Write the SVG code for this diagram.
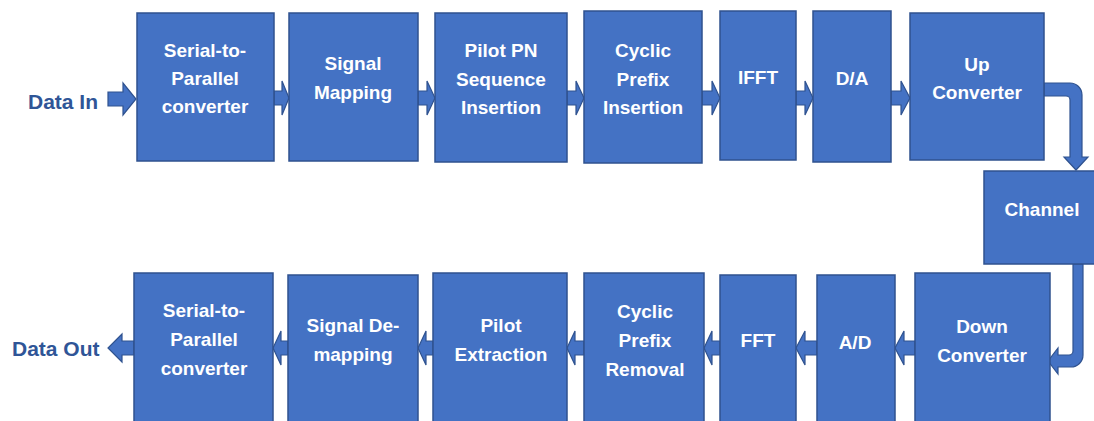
<svg xmlns="http://www.w3.org/2000/svg" width="1094" height="421" viewBox="0 0 1094 421">
<style>
.box{fill:#4472C4;stroke:#2F528F;stroke-width:1.5}
.arr{fill:#4472C4;stroke:#2F528F;stroke-width:1.2;stroke-linejoin:miter}
.t{font-family:"Liberation Sans",Arial,sans-serif;font-weight:bold;font-size:19px;fill:#FFFFFF;text-anchor:middle}
.lbl{font-family:"Liberation Sans",Arial,sans-serif;font-weight:bold;font-size:21px;fill:#2F5597}
</style>
<rect width="1094" height="421" fill="#FFFFFF"/>
<g id="connectors">
<path class="arr" d="M108,92 H123 V83 L136,99 L123,115 V106 H108 Z"/>
<path class="arr" d="M274,91 H282 V81 L289,98 L282,115 V105 H274 Z"/>
<path class="arr" d="M418,91 H427 V81 L435,98 L427,115 V105 H418 Z"/>
<path class="arr" d="M567,91 H576 V81 L584,98 L576,115 V105 H567 Z"/>
<path class="arr" d="M702,91 H712 V81 L720,98 L712,115 V105 H702 Z"/>
<path class="arr" d="M796,91 H805 V81 L813,98 L805,115 V105 H796 Z"/>
<path class="arr" d="M891,91 H901 V81 L910,98 L901,115 V105 H891 Z"/>
<path class="arr" d="M1044,83 H1070 A12,12 0 0 1 1082,95 V157 H1088 L1076,170 L1064,157 H1070 V100 A4,4 0 0 0 1066,96 H1044 Z"/>
<path class="arr" d="M1073,264 H1083 V355 A12,12 0 0 1 1071,367 H1058 V374 L1048,361 L1058,348 V355 H1069 A4,4 0 0 0 1073,351 Z"/>
<path class="arr" d="M915,341 H904 V331 L895,348 L904,365 V355 H915 Z"/>
<path class="arr" d="M817,341 H805 V331 L796,348 L805,365 V355 H817 Z"/>
<path class="arr" d="M720,341 H712 V331 L704,348 L712,365 V355 H720 Z"/>
<path class="arr" d="M584,341 H575 V331 L567,348 L575,365 V355 H584 Z"/>
<path class="arr" d="M433,341 H426 V331 L418,348 L426,365 V355 H433 Z"/>
<path class="arr" d="M288,341 H281 V331 L273,348 L281,365 V355 H288 Z"/>
<path class="arr" d="M134,341 H122 V334 L108,348 L122,362 V355 H134 Z"/>
</g>
<g id="label-data-in"><text class="lbl" x="28" y="109">Data In</text></g>
<g id="label-data-out"><text class="lbl" x="12" y="356">Data Out</text></g>
<g id="n-sp-tx"><rect class="box" x="137" y="13" width="137" height="148"/>
<text class="t" x="205" y="57">Serial-to-</text><text class="t" x="205" y="85">Parallel</text><text class="t" x="205" y="113">converter</text></g>
<g id="n-mapping"><rect class="box" x="289" y="13" width="129" height="148"/>
<text class="t" x="353" y="70">Signal</text><text class="t" x="353" y="99">Mapping</text></g>
<g id="n-pilot-ins"><rect class="box" x="435" y="13" width="132" height="149"/>
<text class="t" x="501" y="57">Pilot PN</text><text class="t" x="501" y="86">Sequence</text><text class="t" x="501" y="114">Insertion</text></g>
<g id="n-cp-ins"><rect class="box" x="584" y="11" width="118" height="152"/>
<text class="t" x="643" y="57">Cyclic</text><text class="t" x="643" y="86">Prefix</text><text class="t" x="643" y="114">Insertion</text></g>
<g id="n-ifft"><rect class="box" x="720" y="11" width="76" height="149"/>
<text class="t" x="758" y="84">IFFT</text></g>
<g id="n-da"><rect class="box" x="813" y="11" width="78" height="151"/>
<text class="t" x="852" y="85">D/A</text></g>
<g id="n-up"><rect class="box" x="910" y="13" width="134" height="147"/>
<text class="t" x="977" y="71">Up</text><text class="t" x="977" y="99">Converter</text></g>
<g id="n-channel"><rect class="box" x="984" y="171" width="116" height="93"/>
<text class="t" x="1042" y="216">Channel</text></g>
<g id="n-down"><rect class="box" x="915" y="273" width="135" height="155"/>
<text class="t" x="982" y="333">Down</text><text class="t" x="982" y="362">Converter</text></g>
<g id="n-ad"><rect class="box" x="817" y="275" width="78" height="153"/>
<text class="t" x="855" y="349">A/D</text></g>
<g id="n-fft"><rect class="box" x="720" y="275" width="76" height="153"/>
<text class="t" x="758" y="347">FFT</text></g>
<g id="n-cp-rem"><rect class="box" x="584" y="273" width="120" height="155"/>
<text class="t" x="645" y="318">Cyclic</text><text class="t" x="645" y="347">Prefix</text><text class="t" x="645" y="376">Removal</text></g>
<g id="n-pilot-ext"><rect class="box" x="433" y="273" width="134" height="155"/>
<text class="t" x="501" y="332">Pilot</text><text class="t" x="501" y="361">Extraction</text></g>
<g id="n-demap"><rect class="box" x="288" y="275" width="130" height="153"/>
<text class="t" x="353" y="332">Signal De-</text><text class="t" x="353" y="361">mapping</text></g>
<g id="n-sp-rx"><rect class="box" x="134" y="273" width="139" height="155"/>
<text class="t" x="204" y="317">Serial-to-</text><text class="t" x="204" y="346">Parallel</text><text class="t" x="204" y="375">converter</text></g>
</svg>
